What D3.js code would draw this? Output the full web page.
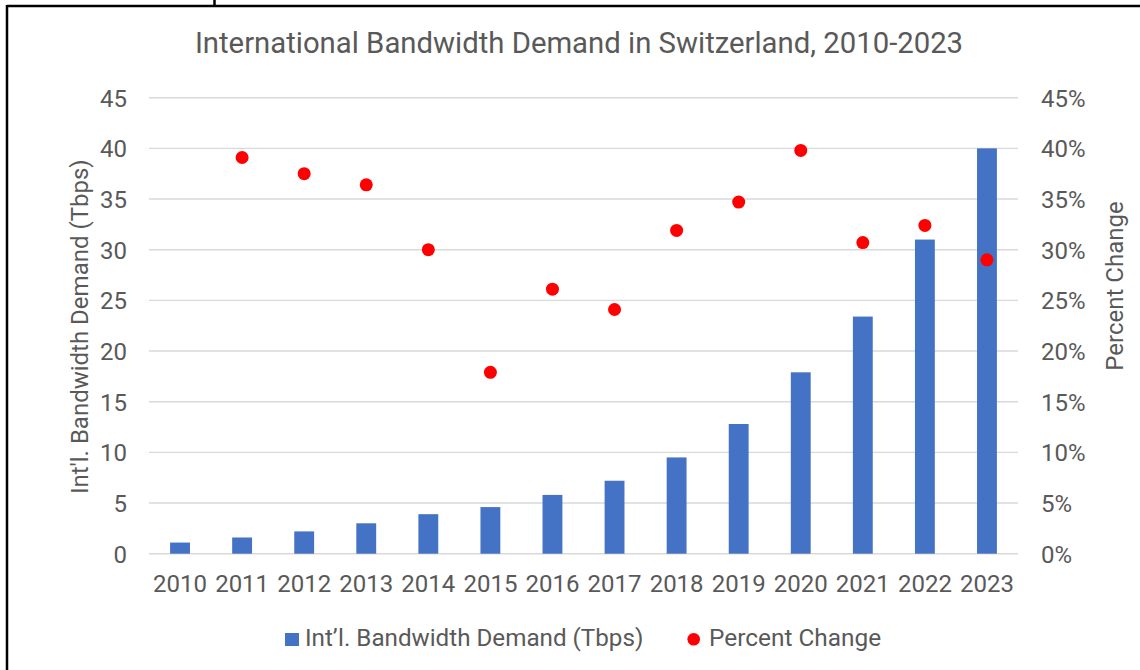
<!DOCTYPE html>
<html>
<head>
<meta charset="utf-8">
<script src="https://cdn.jsdelivr.net/npm/d3@7"></script>
<style>
body { margin: 0; background: #fff; }
svg text { font-family: Roboto, "Open Sans", sans-serif; fill: #595959; }
</style>
</head>
<body>
<svg id="main" width="1140" height="670"></svg>
<script>
// values
var years = ["2010","2011","2012","2013","2014","2015","2016","2017","2018","2019","2020","2021","2022","2023"];
var demand = [1.1, 1.6, 2.2, 3.0, 3.9, 4.6, 5.8, 7.2, 9.5, 12.8, 17.9, 23.4, 31.0, 40.0];
var pctChange = [null, 39.1, 37.5, 36.4, 30.0, 17.9, 26.1, 24.1, 31.9, 34.7, 39.8, 30.7, 32.4, 29.0];
var leftTicks = [0, 5, 10, 15, 20, 25, 30, 35, 40, 45];
var rightTicks = [0, 5, 10, 15, 20, 25, 30, 35, 40, 45];

var svg = d3.select("#main");
var plotL = 149, plotR = 1018, plotT = 97.7, plotB = 553.7;
var barColor = "#4472C4";
var dotColor = "#FF0000";

var x = d3.scaleBand().domain(years).range([plotL, plotR]).paddingInner(0.68).paddingOuter(0.34);
var y = d3.scaleLinear().domain([0, 45]).range([plotB, plotT]);
var y2 = d3.scaleLinear().domain([0, 45]).range([plotB, plotT]);

// frame lines
svg.append("line").attr("x1", 7).attr("x2", 1140).attr("y1", 6).attr("y2", 6)
  .attr("stroke", "#000").attr("stroke-width", 2.5);
svg.append("line").attr("x1", 7).attr("x2", 7).attr("y1", 5).attr("y2", 670)
  .attr("stroke", "#000").attr("stroke-width", 2.5);
svg.append("line").attr("x1", 214.5).attr("x2", 214.5).attr("y1", 0).attr("y2", 6)
  .attr("stroke", "#000").attr("stroke-width", 2.5);

// title
svg.append("text").attr("x", 579).attr("y", 52.5).attr("text-anchor", "middle")
  .style("font-size", "29.3px")
  .text("International Bandwidth Demand in Switzerland, 2010-2023");

// gridlines
svg.append("g").selectAll("line").data(leftTicks).enter().append("line")
  .attr("x1", plotL).attr("x2", plotR)
  .attr("y1", function(d){ return y(d); }).attr("y2", function(d){ return y(d); })
  .attr("stroke", "#d9d9d9").attr("stroke-width", 1.4);

// left axis
var yAxis = d3.axisLeft(y).tickValues(leftTicks).tickSize(0).tickPadding(0);
var gy = svg.append("g").attr("transform", "translate(127,0)").call(yAxis);
gy.select(".domain").remove();
gy.selectAll("text").style("font-size", "24px").attr("fill", "#595959").attr("dy", "0.35em");

// right axis
var y2Axis = d3.axisRight(y2).tickValues(rightTicks).tickSize(0).tickPadding(0)
  .tickFormat(function(d){ return d + "%"; });
var gy2 = svg.append("g").attr("transform", "translate(1041,0)").call(y2Axis);
gy2.select(".domain").remove();
gy2.selectAll("text").style("font-size", "24px").attr("fill", "#595959").attr("dy", "0.35em");

// x axis
var xAxis = d3.axisBottom(x).tickSize(0).tickPadding(0);
var gx = svg.append("g").attr("transform", "translate(0,575)").call(xAxis);
gx.select(".domain").remove();
gx.selectAll("text").style("font-size", "24px").attr("fill", "#595959").attr("dy", "0.72em");

// bars
svg.append("g").selectAll("rect").data(demand).enter().append("rect")
  .attr("x", function(d, i){ return x(years[i]); })
  .attr("width", x.bandwidth())
  .attr("y", function(d){ return y(d); })
  .attr("height", function(d){ return plotB - y(d); })
  .attr("fill", barColor);

// percent change dots
svg.append("g").selectAll("circle").data(pctChange.map(function(v, i){ return {v: v, year: years[i]}; })
    .filter(function(d){ return d.v !== null; }))
  .enter().append("circle")
  .attr("cx", function(d){ return x(d.year) + x.bandwidth() / 2; })
  .attr("cy", function(d){ return y2(d.v); })
  .attr("r", 6.5)
  .attr("fill", dotColor);

// axis titles
svg.append("text").attr("transform", "translate(88,326.7) rotate(-90)")
  .attr("text-anchor", "middle").style("font-size", "24px")
  .text("Int'l. Bandwidth Demand (Tbps)");
svg.append("text").attr("transform", "translate(1123,286) rotate(-90)")
  .attr("text-anchor", "middle").style("font-size", "24px")
  .text("Percent Change");

// legend
var lg = svg.append("g");
lg.append("rect").attr("x", 285).attr("y", 633).attr("width", 14).attr("height", 13).attr("fill", barColor);
lg.append("text").attr("x", 305).attr("y", 646).style("font-size", "24.2px").text("Int’l. Bandwidth Demand (Tbps)");
lg.append("circle").attr("cx", 693.7).attr("cy", 639.3).attr("r", 6.3).attr("fill", dotColor);
lg.append("text").attr("x", 709).attr("y", 646).style("font-size", "24.4px").text("Percent Change");
</script>
</body>
</html>
